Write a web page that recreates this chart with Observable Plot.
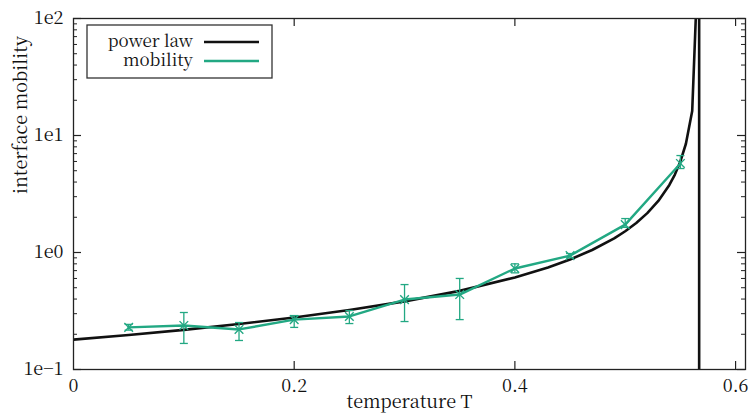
<!DOCTYPE html>
<html>
<head>
<meta charset="utf-8">
<script src="https://cdn.jsdelivr.net/npm/d3@7"></script>
<script src="https://cdn.jsdelivr.net/npm/@observablehq/plot@0.6"></script>
<style>
  html, body { margin: 0; padding: 0; background: #fff; }
  #chart { position: relative; width: 751px; height: 418px; }
  #chart svg { display: block; }
  #chart svg, #chart svg text { font-family: "Noto Serif CJK SC", "Liberation Serif", serif !important; }
  #legend-text { position: absolute; left: 87px; top: 30px; width: 106px; text-align: right;
    font-family: "Noto Serif CJK SC", "Liberation Serif", serif; font-size: 17px; line-height: 19px; color: #111; }
  #legend-text div { height: 19px; white-space: nowrap; }
</style>
</head>
<body>
<div id="chart"><div id="legend-text"></div></div>
<script>
// ---- data ----
const temperature = [0.05, 0.10, 0.15, 0.20, 0.25, 0.30, 0.35, 0.40, 0.45, 0.50, 0.55];
const mobility    = [0.229, 0.238, 0.220, 0.267, 0.284, 0.396, 0.437, 0.730, 0.940, 1.73, 5.77];
const mobilityLow = [0.217, 0.167, 0.177, 0.229, 0.247, 0.257, 0.267, 0.670, 0.900, 1.64, 5.22];
const mobilityHigh= [0.243, 0.307, 0.252, 0.289, 0.319, 0.532, 0.600, 0.800, 0.980, 1.95, 6.74];

const powerT = [0, 0.05, 0.10, 0.15, 0.20, 0.25, 0.30, 0.35, 0.40, 0.43, 0.45, 0.47, 0.49, 0.50, 0.51, 0.52, 0.53, 0.54, 0.545, 0.55, 0.555, 0.5607, 0.5668];
const powerM = [0.180, 0.197, 0.218, 0.245, 0.278, 0.322, 0.382, 0.470, 0.611, 0.745, 0.872, 1.05, 1.32, 1.52, 1.79, 2.17, 2.76, 3.78, 4.64, 6.0, 8.5, 16.2, 500];

const criticalT = [0.567];

const xTicks = [0, 0.2, 0.4, 0.6];
const xTickLabels = ["0", "0.2", "0.4", "0.6"];
const yTicks = [0.1, 1, 10, 100];
const yTickLabels = ["1e\u22121", "1e0", "1e1", "1e2"];
const yMinorTicks = [];
for (const dec of [0.1, 1, 10]) for (let k = 2; k <= 9; k++) yMinorTicks.push(+(dec * k).toPrecision(3));

const seriesNames = ["power law", "mobility"];
const seriesColors = ["#111111", "#22a883"];

// ---- tables ----
const points = temperature.map((t, i) => ({T: t, m: mobility[i], lo: mobilityLow[i], hi: mobilityHigh[i]}));
const curve = powerT.map((t, i) => ({T: t, m: powerM[i]}));

const W = 751, H = 418;
const mL = 73, mR = 6, mT = 18, mB = 49;
const innerH = H - mT - mB;
const innerW = W - mL - mR;

const capSymbol = {
  draw(ctx, size) {
    const r = Math.sqrt(size / Math.PI);
    ctx.moveTo(-r, 0); ctx.lineTo(r, 0);
  }
};

const green = seriesColors[1];
const FS = 18;

const plot = Plot.plot({
  width: W, height: H,
  marginLeft: mL, marginRight: mR, marginTop: mT, marginBottom: mB,
  style: {fontSize: FS + "px", background: "#fff", color: "#111"},
  x: {domain: [0, 0.609], axis: null},
  y: {type: "log", domain: [0.1, 100], axis: null},
  marks: [
    // ticks (inward, mirrored)
    Plot.tickX(xTicks.slice(1), {x: d => d, insetTop: innerH - 8, stroke: "#222", strokeWidth: 1.2}),
    Plot.tickX(xTicks.slice(1), {x: d => d, insetBottom: innerH - 8, stroke: "#222", strokeWidth: 1.2}),
    Plot.tickY(yTicks, {y: d => d, insetRight: innerW - 8, stroke: "#222", strokeWidth: 1.2}),
    Plot.tickY(yTicks, {y: d => d, insetLeft: innerW - 8, stroke: "#222", strokeWidth: 1.2}),
    Plot.tickY(yMinorTicks, {y: d => d, insetRight: innerW - 4, stroke: "#222", strokeWidth: 1}),
    Plot.tickY(yMinorTicks, {y: d => d, insetLeft: innerW - 4, stroke: "#222", strokeWidth: 1}),
    // tick labels
    Plot.axisX(xTicks, {anchor: "bottom", tickSize: 0, tickPadding: 10, tickFormat: d => xTickLabels[xTicks.indexOf(d)], label: null, fontSize: FS}),
    Plot.axisY(yTicks, {anchor: "left", tickSize: 0, tickPadding: 10, tickFormat: d => yTickLabels[yTicks.indexOf(d)], label: null, fontSize: FS}),
    // axis titles
    Plot.text(["temperature T"], {frameAnchor: "bottom", dy: 38, text: d => d, fontSize: FS}),
    Plot.text(["interface mobility"], {frameAnchor: "left", dx: -52, rotate: -90, text: d => d, fontSize: FS}),
    // critical temperature
    Plot.ruleX(criticalT, {x: d => d, stroke: "#111", strokeWidth: 2.6}),
    // power law
    Plot.line(curve, {x: "T", y: "m", stroke: seriesColors[0], strokeWidth: 2.6, clip: true}),
    // mobility with error bars
    Plot.ruleX(points, {x: "T", y1: "lo", y2: "hi", stroke: green, strokeWidth: 1.3}),
    Plot.dot(points, {x: "T", y: "lo", symbol: capSymbol, r: 4, stroke: green, strokeWidth: 1.3}),
    Plot.dot(points, {x: "T", y: "hi", symbol: capSymbol, r: 4, stroke: green, strokeWidth: 1.3}),
    Plot.line(points, {x: "T", y: "m", stroke: green, strokeWidth: 2.4}),
    Plot.dot(points, {x: "T", y: "m", symbol: "times", r: 4, stroke: green, strokeWidth: 1.4}),
    Plot.frame({stroke: "#222", strokeWidth: 1.3})
  ]
});

const chart = document.getElementById("chart");
chart.insertBefore(plot, chart.firstChild);

// legend (inside the frame, top-left): box and samples in the SVG, labels as HTML
const svg = d3.select(plot);
const lg = svg.append("g");
lg.append("rect").attr("x", 87).attr("y", 25).attr("width", 185).attr("height", 53)
  .attr("fill", "#fff").attr("stroke", "#333").attr("stroke-width", 1.3);
const legendText = d3.select("#legend-text");
seriesNames.forEach((name, i) => {
  const y = 42 + i * 19;
  legendText.append("div").text(name);
  lg.append("line").attr("x1", 204).attr("x2", 259).attr("y1", y).attr("y2", y)
    .attr("stroke", seriesColors[i]).attr("stroke-width", 2.6);
});
</script>
</body>
</html>
